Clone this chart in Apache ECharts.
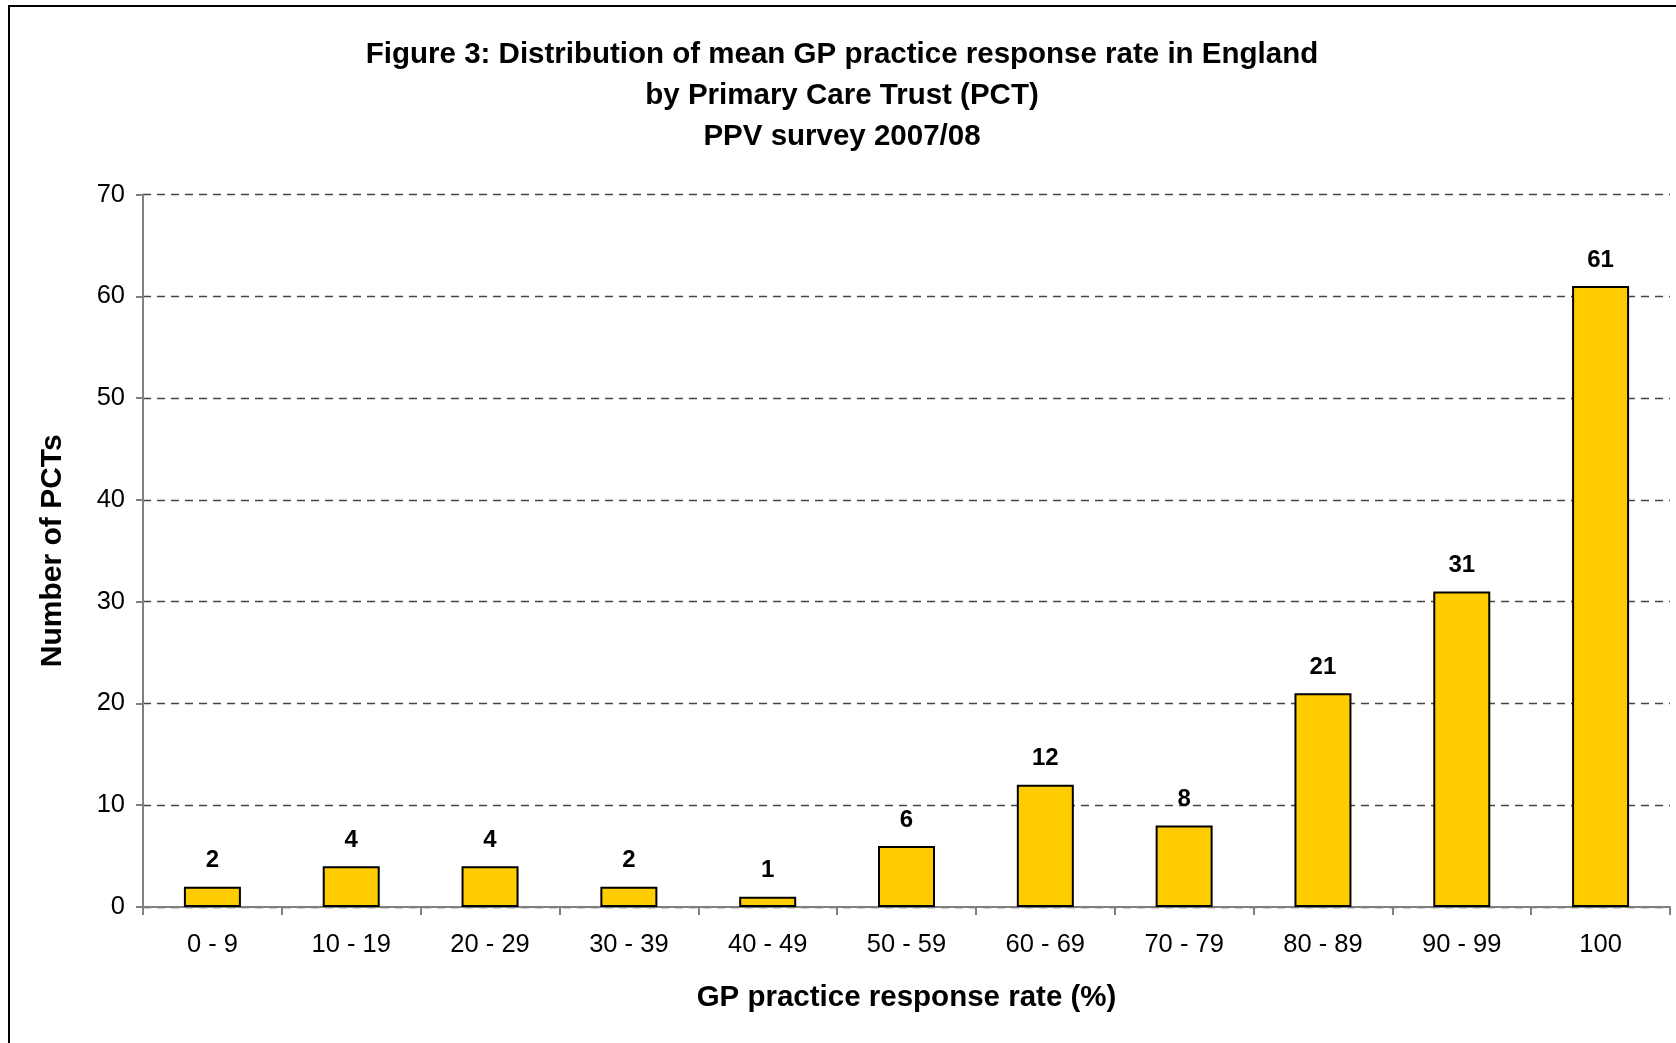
<!DOCTYPE html>
<html>
<head>
<meta charset="utf-8">
<title>Figure 3</title>
<script src="https://cdn.jsdelivr.net/npm/echarts@6/dist/echarts.min.js"></script>
<style>
    html, body { margin: 0; padding: 0; background: #ffffff; }
    #chart { width: 1676px; height: 1043px; }
</style>
</head>
<body>
<div id="chart"></div>
<script>
// 分类 / 数据
const categories = ['0 - 9', '10 - 19', '20 - 29', '30 - 39', '40 - 49', '50 - 59', '60 - 69', '70 - 79', '80 - 89', '90 - 99', '100'];
const pctCounts = [2, 4, 4, 2, 1, 6, 12, 8, 21, 31, 61];
const titleLines = ['Figure 3: Distribution of mean GP practice response rate in England', 'by Primary Care Trust (PCT)', 'PPV survey 2007/08'];

var myChart = echarts.init(document.getElementById('chart'));
const font = '"Liberation Sans", Arial, sans-serif';

let option = {
    backgroundColor: '#ffffff',
    animation: false,
    textStyle: { fontFamily: font },
    title: {
        text: titleLines.join('\n'),
        left: 837,
        top: 29,
        textAlign: 'center',
        textStyle: {
            fontFamily: font,
            fontSize: 29.5,
            fontWeight: 'bold',
            color: '#000',
            lineHeight: 41
        }
    },
    // 外框
    graphic: [{
        type: 'rect',
        shape: { x: 9, y: 6, width: 1720, height: 1100 },
        style: { fill: 'none', stroke: '#000', lineWidth: 2 }
    }],
    grid: {
        left: 143,
        right: 6,
        top: 194.5,
        bottom: 136,
        containLabel: false
    },
    xAxis: {
        type: 'category',
        data: categories,
        name: 'GP practice response rate (%)',
        nameLocation: 'middle',
        nameGap: 76,
        nameTextStyle: { fontFamily: font, fontSize: 29.5, fontWeight: 'bold', color: '#000' },
        axisLine: { lineStyle: { color: '#808080', width: 2 } },
        axisTick: { show: true, alignWithLabel: false, length: 8, lineStyle: { color: '#808080', width: 2 } },
        axisLabel: { fontFamily: font, fontSize: 25.5, color: '#000', margin: 25, interval: 0 }
    },
    yAxis: {
        type: 'value',
        min: 0,
        max: 70,
        interval: 10,
        name: 'Number of PCTs',
        nameLocation: 'middle',
        nameGap: 75,
        nameTextStyle: { fontFamily: font, fontSize: 30, fontWeight: 'bold', color: '#000' },
        axisLine: { show: true, lineStyle: { color: '#808080', width: 2 } },
        axisTick: { show: true, length: 7, lineStyle: { color: '#808080', width: 2 } },
        axisLabel: { fontFamily: font, fontSize: 25.5, color: '#000', margin: 18 },
        splitLine: {
            show: true,
            lineStyle: { color: '#444', width: 1.3, type: [8, 6] }
        }
    },
    series: [{
        type: 'bar',
        data: pctCounts,
        barWidth: 57,
        itemStyle: { color: '#FFCC00', borderColor: '#000', borderWidth: 2 },
        label: {
            show: true,
            position: 'top',
            distance: 14,
            fontFamily: font,
            fontSize: 24,
            fontWeight: 'bold',
            color: '#000'
        }
    }]
};

myChart.setOption(option);
</script>
</body>
</html>
